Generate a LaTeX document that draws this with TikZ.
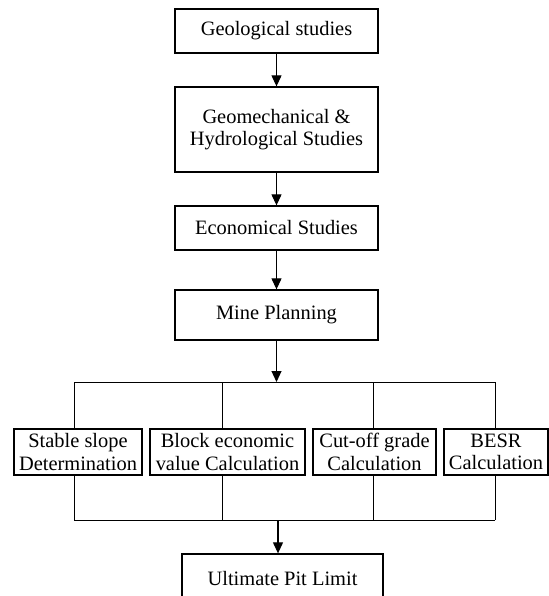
\documentclass[tikz,border=0pt]{standalone}
\usepackage{fontspec}
\setmainfont{Liberation Serif}
\usetikzlibrary{arrows.meta}
\begin{document}
\begin{tikzpicture}[x=1bp,y=-1bp,
            stage/.style={draw,line width=1.3bp,align=center,inner sep=1bp,minimum height=#1,
              font=\fontsize{20.5}{22.5}\selectfont},
            stage/.default=44bp,
            link/.style={line width=1.1bp,-{Triangle[length=11bp,width=10bp]}},
            bus/.style={line width=1bp}]
            \useasboundingbox (0,0) rectangle (549,596);
            \clip (0,0) rectangle (549,596);
            \node[stage,minimum width=203bp] (geo) at (276.5,31) {Geological studies};
            \node[stage=85bp,minimum width=203bp] (geomech) at (276.5,129.5) {Geomechanical \&\\Hydrological Studies};
            \node[stage,minimum width=203bp] (econ) at (276.5,228) {Economical Studies};
            \node[stage=50bp,minimum width=203bp] (plan) at (276.5,315) {Mine Planning};
            \node[stage=46bp,minimum width=128bp] (slope) at (78,452) {Stable slope\\Determination};
            \node[stage=46bp,minimum width=155bp] (bev) at (227.5,452) {Block economic\\value Calculation};
            \node[stage=46bp,minimum width=123bp] (cutoff) at (374.5,452) {Cut-off grade\\Calculation};
            \node[stage=46bp,minimum width=104bp] (besr) at (496,452) {BESR\\Calculation};
            \node[stage=50bp,minimum width=201bp] (upl) at (282.5,579) {Ultimate Pit Limit};
            \coordinate (top1) at (74,382);
            \coordinate (top2) at (222,382);
            \coordinate (top3) at (373,382);
            \coordinate (top4) at (495,382);
            \coordinate (bot1) at (74,520);
            \coordinate (bot2) at (222,520);
            \coordinate (bot3) at (373,520);
            \coordinate (bot4) at (495,520);
            \coordinate (botmid) at (278,520);
            \draw[link] (geo) -- (geomech);
            \draw[link] (geomech) -- (econ);
            \draw[link] (econ) -- (plan);
            \draw[link] (plan.south) -- (plan.south |- top1);
            \draw[bus] (top1) -- (top4);
            \draw[bus] (bot1) -- (bot4);
            \draw[bus] (top1) -- (top1 |- slope.north);
            \draw[bus] (top2) -- (top2 |- bev.north);
            \draw[bus] (top3) -- (top3 |- cutoff.north);
            \draw[bus] (top4) -- (top4 |- besr.north);
            \draw[bus] (bot1) -- (bot1 |- slope.south);
            \draw[bus] (bot2) -- (bot2 |- bev.south);
            \draw[bus] (bot3) -- (bot3 |- cutoff.south);
            \draw[bus] (bot4) -- (bot4 |- besr.south);
            \draw[link] (botmid) -- (botmid |- upl.north);
        \end{tikzpicture}
\end{document}
